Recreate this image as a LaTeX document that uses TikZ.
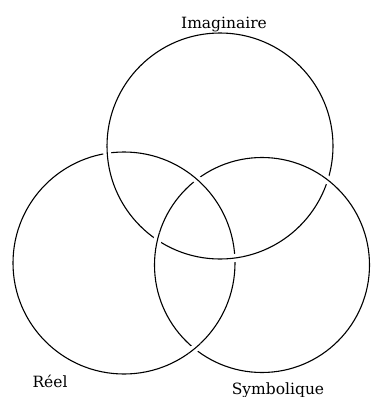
\documentclass[tikz,border=0pt]{standalone}
\usepackage{fontspec}
\setmainfont{DejaVu Serif}
\usepackage{tikz}
\usetikzlibrary{positioning,intersections}

\begin{document}
\begin{tikzpicture}[x=1pt,y=-1pt,
  ring/.style={draw=black,line width=1.1pt},
  gap/.style={draw=white,line width=8pt},
  lbl/.style={font=\fontsize{15.5}{18}\selectfont,anchor=base}]
\useasboundingbox (0,0) rectangle (371,397);
% centres of the three rings
\coordinate (imag) at (220,146);
\coordinate (reel) at (124,263);
\coordinate (symb) at (262,265);
\draw[ring,name path=imagring] (imag) circle[radius=113];
\draw[ring,name path=reelring] (reel) circle[radius=111];
\draw[ring,name path=symbring] (symb) circle[radius=107.5];
% crossings
\path[name intersections={of=imagring and reelring,by={ir1,ir2}}];
\path[name intersections={of=symbring and imagring,by={si1,si2}}];
\path[name intersections={of=reelring and symbring,by={rs1,rs2}}];
% the ring on top at each crossing
\foreach \p/\c/\r in {ir1/imag/113,ir2/imag/113,si1/symb/107.5,si2/symb/107.5,rs1/reel/111,rs2/reel/111}{
  \begin{scope}
    \clip (\p) circle[radius=8];
    \draw[gap] (\c) circle[radius=\r];
    \draw[ring] (\c) circle[radius=\r];
  \end{scope}
}
\node[lbl] (imaglbl) at (224,28) {Imaginaire};
\node[lbl] (reellbl) at (50,387) {Réel};
\node[lbl] (symblbl) at (278,394) {Symbolique};
\end{tikzpicture}
\end{document}
